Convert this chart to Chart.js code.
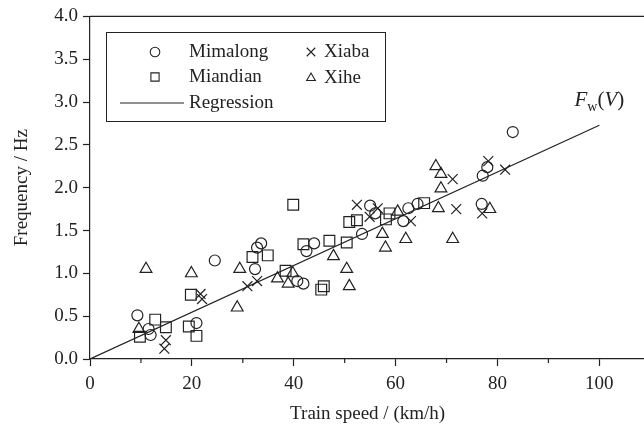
<!DOCTYPE html>
<html>
<head>
<meta charset="utf-8">
<script src="https://cdn.jsdelivr.net/npm/chart.js@4.4.0/dist/chart.umd.min.js"></script>
<style>
  html, body { margin: 0; padding: 0; background: #fff; overflow: hidden; }
  #clip { width: 644px; height: 426px; overflow: hidden; }
  #wrap { width: 654px; height: 426px; }
</style>
</head>
<body>
<div id="clip"><div id="wrap"><canvas id="chart"></canvas></div></div>
<script>
// speed (km/h) and frequency (Hz) per station
var mimalongX = [9.3, 11.5, 11.9, 20.9, 24.5, 32.4, 32.8, 33.6, 40.7, 41.9, 42.5, 44.0, 53.4, 55.0, 56.0, 61.5, 62.5, 64.3, 76.9, 77.1, 78.0, 83.0];
var mimalongY = [0.51, 0.35, 0.28, 0.42, 1.15, 1.05, 1.30, 1.35, 0.91, 0.88, 1.26, 1.35, 1.46, 1.79, 1.70, 1.61, 1.76, 1.81, 1.81, 2.14, 2.24, 2.65];

var miandianX = [9.8, 12.8, 14.9, 19.4, 19.8, 20.9, 31.9, 34.9, 38.4, 39.9, 41.9, 45.4, 45.9, 47.0, 50.4, 50.9, 52.4, 58.1, 58.8, 65.6];
var miandianY = [0.26, 0.46, 0.37, 0.38, 0.75, 0.27, 1.19, 1.21, 1.03, 1.80, 1.34, 0.81, 0.85, 1.38, 1.36, 1.60, 1.62, 1.63, 1.70, 1.82];

var xiabaX = [14.6, 14.9, 21.7, 22.0, 30.9, 32.8, 52.4, 54.9, 56.5, 63.0, 71.2, 71.9, 77.0, 78.2, 81.5];
var xiabaY = [0.12, 0.22, 0.76, 0.70, 0.85, 0.91, 1.80, 1.66, 1.76, 1.61, 2.10, 1.75, 1.70, 2.31, 2.21];

var xiheX = [9.6, 11.0, 19.9, 28.9, 29.4, 36.8, 38.9, 39.8, 47.8, 50.4, 50.9, 57.4, 58.0, 60.4, 62.0, 67.9, 68.9, 68.9, 68.4, 71.2, 78.5];
var xiheY = [0.35, 1.05, 1.00, 0.60, 1.05, 0.94, 0.88, 1.00, 1.20, 1.05, 0.85, 1.46, 1.30, 1.72, 1.40, 2.25, 2.16, 1.99, 1.76, 1.40, 1.75];

// regression line F_w(V)
var regX = [0, 100];
var regY = [0, 2.73];

var xTicks = [0, 20, 40, 60, 80, 100];
var xMinorTicks = [10, 30, 50, 70, 90];

var ink = '#222';
var serif = '"Liberation Serif", "DejaVu Serif", serif';

function pts(xs, ys) {
	return xs.map(function(x, i) { return {x: x, y: ys[i]}; });
}

function series(label, xs, ys, style, r) {
	return {
		type: 'scatter',
		label: label,
		data: pts(xs, ys),
		pointStyle: style,
		pointRadius: r,
		pointHoverRadius: r,
		pointBorderWidth: 1.2,
		borderColor: ink,
		backgroundColor: 'rgba(0,0,0,0)'
	};
}

// frame, minor ticks, legend and curve label
var extras = {
	id: 'extras',
	afterDraw: function(chart) {
		var ctx = chart.ctx;
		var a = chart.chartArea;
		var xs = chart.scales.x;
		var ys = chart.scales.y;
		ctx.save();
		ctx.strokeStyle = ink;
		ctx.lineWidth = 1.2;
		ctx.beginPath();
		ctx.moveTo(a.left, a.top);
		ctx.lineTo(a.right, a.top);
		xMinorTicks.forEach(function(v) {
			var px = xs.getPixelForValue(v);
			ctx.moveTo(px, a.bottom);
			ctx.lineTo(px, a.bottom + 4);
		});
		ctx.stroke();

		// legend box
		ctx.lineWidth = 1;
		ctx.strokeRect(106.5, 32.5, 279, 89);
		ctx.font = '19px ' + serif;
		ctx.textBaseline = 'middle';
		ctx.textAlign = 'left';
		var rows = [
			{style: 'circle', r: 4.8, mx: 155, tx: 189, y: 52, text: 'Mimalong'},
			{style: 'rect', r: 5.8, mx: 155, tx: 189, y: 77, text: 'Miandian'},
			{style: 'crossRot', r: 6, mx: 311, tx: 324, y: 52, text: 'Xiaba'},
			{style: 'triangle', r: 5, mx: 311, tx: 324, y: 78, text: 'Xihe'}
		];
		rows.forEach(function(row) {
			ctx.lineWidth = 1.1;
			ctx.fillStyle = 'rgba(0,0,0,0)';
			Chart.helpers.drawPoint(ctx, {pointStyle: row.style, radius: row.r, borderWidth: 1.1}, row.mx, row.y);
			ctx.fillStyle = ink;
			ctx.fillText(row.text, row.tx, row.y);
		});
		ctx.lineWidth = 1.2;
		ctx.beginPath();
		ctx.moveTo(120, 103);
		ctx.lineTo(184, 103);
		ctx.stroke();
		ctx.fillText('Regression', 189, 103);

		// F_w(V)
		var cx = xs.getPixelForValue(100);
		var by = ys.getPixelForValue(2.95);
		var parts = [
			{t: 'F', f: 'italic 21px ' + serif, dy: 0},
			{t: 'w', f: '14px ' + serif, dy: 5},
			{t: '(', f: '21px ' + serif, dy: 0},
			{t: 'V', f: 'italic 21px ' + serif, dy: 0},
			{t: ')', f: '21px ' + serif, dy: 0}
		];
		var total = 0;
		parts.forEach(function(p) { ctx.font = p.f; p.w = ctx.measureText(p.t).width; total += p.w; });
		var x = cx - total / 2;
		ctx.textBaseline = 'alphabetic';
		parts.forEach(function(p) {
			ctx.font = p.f;
			ctx.fillText(p.t, x, by + p.dy);
			x += p.w;
		});
		ctx.restore();
	}
};

var ctx = document.getElementById('chart').getContext('2d');
window.speedChart = new Chart(ctx, {
	type: 'scatter',
	data: {
		datasets: [
			{
				type: 'line',
				label: 'Regression',
				data: pts(regX, regY),
				borderColor: ink,
				borderWidth: 1.2,
				pointRadius: 0,
				fill: false
			},
			series('Mimalong', mimalongX, mimalongY, 'circle', 5.5),
			series('Miandian', miandianX, miandianY, 'rect', 7.6),
			series('Xiaba', xiabaX, xiabaY, 'crossRot', 7),
			series('Xihe', xiheX, xiheY, 'triangle', 6.8)
		]
	},
	options: {
		responsive: true,
		maintainAspectRatio: false,
		animation: false,
		layout: { padding: { top: 15, right: 0, left: 0, bottom: 0 } },
		plugins: {
			legend: { display: false },
			tooltip: { enabled: false }
		},
		scales: {
			x: {
				type: 'linear',
				min: 0,
				max: 109,
				afterBuildTicks: function(scale) {
					scale.ticks = xTicks.map(function(v) { return {value: v}; });
				},
				afterFit: function(scale) {
					scale.height = 67;
					scale.paddingLeft = 0;
					scale.paddingRight = 0;
				},
				border: { color: ink, width: 1.2 },
				grid: { drawOnChartArea: false, drawTicks: true, tickLength: 7, tickColor: ink, tickWidth: 1.2 },
				ticks: { color: ink, font: { family: serif, size: 19 }, padding: 7, maxRotation: 0 },
				title: {
					display: true,
					text: 'Train speed / (km/h)',
					color: ink,
					font: { family: serif, size: 19 },
					padding: { top: 7, bottom: 1 }
				}
			},
			y: {
				min: 0,
				max: 4,
				afterFit: function(scale) { scale.width = 90; },
				border: { color: ink, width: 1.2 },
				grid: { drawOnChartArea: false, drawTicks: true, tickLength: 7, tickColor: ink, tickWidth: 1.2 },
				ticks: {
					stepSize: 0.5,
					color: ink,
					font: { family: serif, size: 19 },
					padding: 5,
					callback: function(v) { return v.toFixed(1); }
				},
				title: {
					display: true,
					text: 'Frequency / Hz',
					color: ink,
					font: { family: serif, size: 19 },
					padding: { top: 11, bottom: 2 }
				}
			}
		}
	},
	plugins: [extras]
});
</script>
</body>
</html>
